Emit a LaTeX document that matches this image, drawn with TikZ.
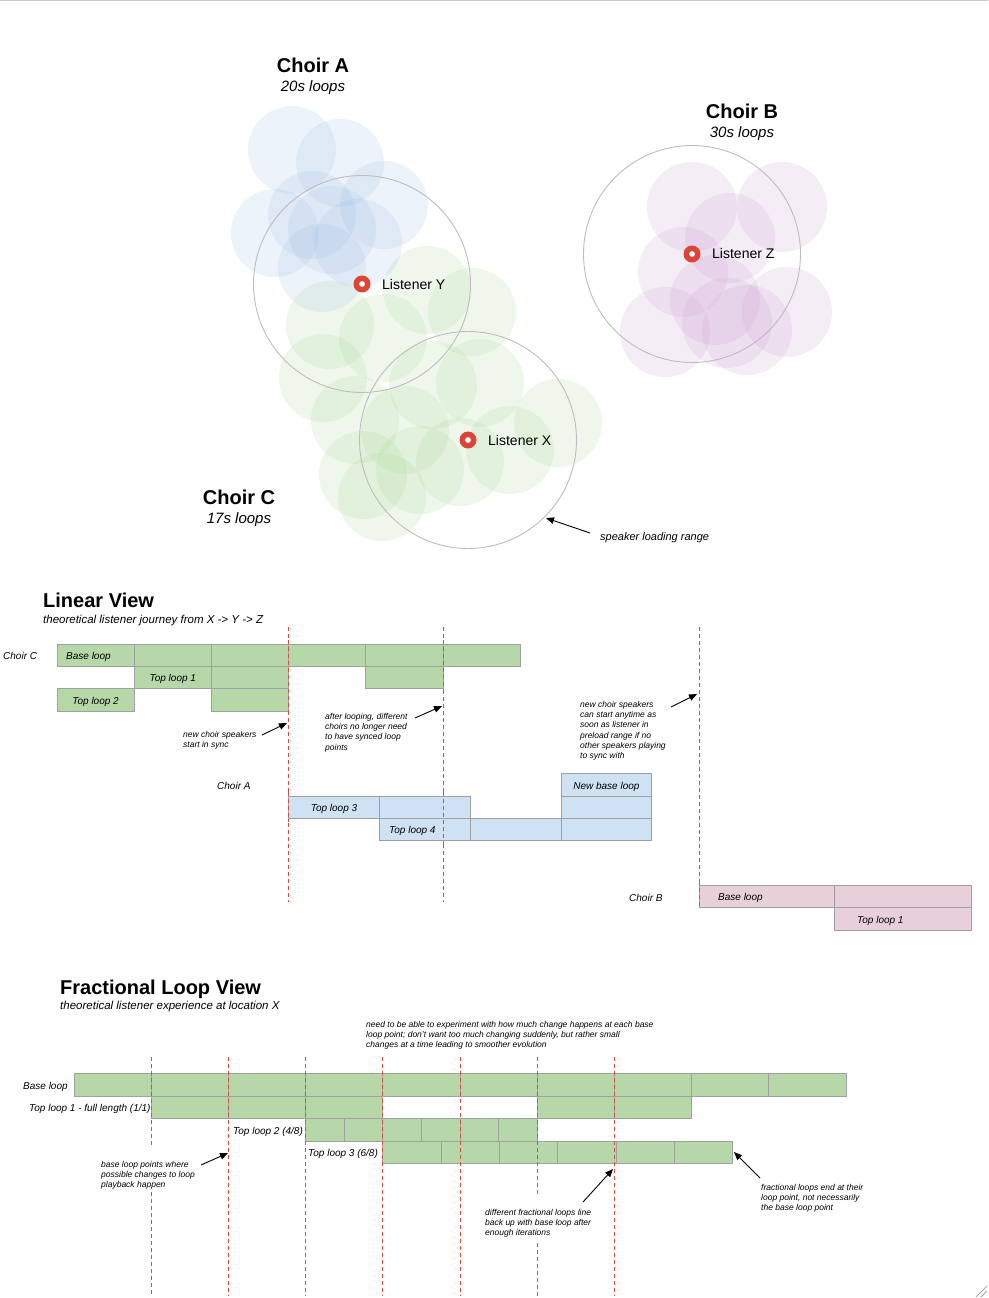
\documentclass[tikz,border=0pt]{standalone}
\usepackage{fontspec}
\setmainfont{Liberation Sans}
\usetikzlibrary{arrows.meta}
\definecolor{gfill}{HTML}{B6D7A8}
\definecolor{bfill}{HTML}{CFE2F3}
\definecolor{pfill}{HTML}{E8D0DB}
\definecolor{bstroke}{HTML}{A0A0A0}
\definecolor{redl}{HTML}{D9503F}
\definecolor{ringc}{HTML}{DB4437}
\definecolor{cA}{RGB}{160,190,228}
\definecolor{cC}{RGB}{170,215,150}
\definecolor{cB}{RGB}{205,160,210}
\definecolor{rangec}{HTML}{BDBDBD}
\tikzset{
  gbox/.style={draw=bstroke, fill=gfill, line width=0.9pt},
  bbox/.style={draw=bstroke, fill=bfill, line width=0.9pt},
  pbox/.style={draw=bstroke, fill=pfill, line width=0.9pt},
  redline/.style={draw=redl, line width=0.9pt, dash pattern=on 4pt off 3pt},
  spkA/.style={fill=cA, fill opacity=0.18},
  spkB/.style={fill=cB, fill opacity=0.18},
  spkC/.style={fill=cC, fill opacity=0.18},
  rangecirc/.style={draw=rangec, line width=0.9pt},
  ringmark/.style={draw=ringc, line width=5.5pt, fill=white},
  arr/.style={draw=black, line width=0.9pt, -{Triangle[length=8pt,width=6.5pt]}},
  note/.style={font=\fontsize{8.5}{10.3}\selectfont\itshape, align=left, inner sep=0pt, anchor=north west},
  lbl/.style={font=\fontsize{10}{12}\selectfont\itshape, inner sep=0pt, anchor=mid west, yshift=-2pt},
  clbl/.style={font=\fontsize{10}{12}\selectfont\itshape, inner sep=0pt, anchor=mid, yshift=-2pt},
  head/.style={font=\fontsize{20}{24}\selectfont\bfseries, inner sep=0pt, anchor=mid west, yshift=-5pt},
  sub/.style={font=\fontsize{11.5}{14}\selectfont\itshape, inner sep=0pt, anchor=mid west, yshift=-2pt},
  chead/.style={font=\fontsize{20}{24}\selectfont\bfseries, inner sep=0pt, anchor=mid, yshift=-5pt},
  csub/.style={font=\fontsize{15}{18}\selectfont\itshape, inner sep=0pt, anchor=mid, yshift=-3pt},
  lis/.style={font=\fontsize{14}{17}\selectfont, inner sep=0pt, anchor=mid west, yshift=-3pt}
}
\begin{document}
\begin{tikzpicture}[x=1pt,y=-1pt]
\useasboundingbox (0,0) rectangle (988,1298);
\fill[white] (0,0) rectangle (988,1298);
\draw[gray!45, line width=1.5pt] (0,0.75) -- (988,0.75);
\draw[gray!70, line width=1pt] (976,1297) -- (987,1286) (981,1297) -- (987,1291);

% ---------- speakers ----------
\foreach \x/\y in {427/290, 472/312, 330/325, 383/338, 323/378, 433/385, 480/383, 355/420, 405/430, 460/462, 558/423, 510/450, 363/475, 382/497, 420/470}
  \fill[spkC] (\x,\y) circle (44pt);
\foreach \x/\y in {292/150, 340/163, 384/205, 275/233, 332/230, 312/215, 322/268, 358/243}
  \fill[spkA] (\x,\y) circle (44pt);
\foreach \x/\y in {692/207, 782/207, 730/238, 683/272, 715/300, 665/332, 727/323, 787/312, 747/330}
  \fill[spkB] (\x,\y) circle (45pt);

% ranges
\draw[rangecirc] (362,284) circle (108.5pt);
\draw[rangecirc] (468,440) circle (108.5pt);
\draw[rangecirc] (692,254) circle (108.5pt);

% listeners
\draw[ringmark] (362,284) circle (5.7pt);
\draw[ringmark] (468,440) circle (5.7pt);
\draw[ringmark] (692,254) circle (5.7pt);
\node[lis] (ly) at (382,284) {Listener Y};
\node[lis] (lx) at (488,440) {Listener X};
\node[lis] (lz) at (712,253) {Listener Z};

\node[chead] (cha) at (313,65) {Choir A};
\node[csub] (cha2) at (313,86) {20s loops};
\node[chead] (chb) at (742,111) {Choir B};
\node[csub] (chb2) at (742,132) {30s loops};
\node[chead] (chc) at (239,497) {Choir C};
\node[csub] (chc2) at (239,518) {17s loops};

\node[sub, font=\fontsize{11}{13}\selectfont\itshape] (slr) at (600,536) {speaker loading range};
\coordinate (slrA) at (590,533);
\coordinate (slrB) at (546,518);
\draw[arr] (slrA) -- (slrB);

% ---------- Linear view ----------
\node[head] (lvh) at (43,600) {Linear View};
\node[sub] (lvs) at (43,619) {theoretical listener journey from X -> Y -> Z};

\draw[redline] (288.6,627) -- (288.6,902);
\draw[redline] (443,627) -- (443,902);
\draw[redline] (699,627) -- (699,907);

% choir C
\node[lbl] (lcc) at (3,655) {Choir C};
\foreach \a/\b in {57/134.2, 134.2/211.4, 211.4/288.6, 288.6/365.8, 365.8/443, 443/520.2}
  \draw[gbox] (\a,644) rectangle (\b,666);
\draw[gbox] (134.2,666) rectangle (211.4,688);
\draw[gbox] (211.4,666) rectangle (288.6,688);
\draw[gbox] (365.8,666) rectangle (443,688);
\draw[gbox] (57,688) rectangle (134.2,711);
\draw[gbox] (211.4,688) rectangle (288.6,711);
\draw[redline] (288.6,640) -- (288.6,715);
\draw[redline] (443,640) -- (443,692);
\node[lbl] (cbl) at (66,655) {Base loop};
\node[clbl] (ct1) at (172.8,677) {Top loop 1};
\node[clbl] (ct2) at (95.6,700) {Top loop 2};

% choir A
\node[lbl] (lca) at (217,785) {Choir A};
\draw[bbox] (288.6,796) rectangle (379.4,818);
\draw[bbox] (379.4,796) rectangle (470.2,818);
\draw[bbox] (379.4,818) rectangle (470.2,840);
\draw[bbox] (470.2,818) rectangle (561,840);
\draw[bbox] (561,818) rectangle (651.8,840);
\draw[bbox] (561,796) rectangle (651.8,818);
\draw[bbox] (561,773) rectangle (651.8,796);
\draw[redline] (288.6,792) -- (288.6,822);
\draw[redline] (443,792) -- (443,844);
\node[clbl] (at3) at (334,807) {Top loop 3};
\node[lbl] (at4) at (389,829) {Top loop 4};
\node[clbl] (anb) at (606.4,785) {New base loop};

% choir B
\node[lbl] (lcb) at (629,897) {Choir B};
\draw[pbox] (699,885) rectangle (834,907);
\draw[pbox] (834,885) rectangle (971,907);
\draw[pbox] (834,907) rectangle (971,930);
\draw[redline] (699,881) -- (699,907);
\node[lbl] (pbl) at (718,896) {Base loop};
\node[lbl] (pt1) at (857,919) {Top loop 1};

% notes
\node[note] (n1) at (183,731) {new choir speakers\\start in sync};
\coordinate (n1a) at (262,735);
\coordinate (n1b) at (287,723);
\draw[arr] (n1a) -- (n1b);
\node[note] (n2) at (325,713) {after looping, different\\choirs no longer need\\to have synced loop\\points};
\coordinate (n2a) at (415,718);
\coordinate (n2b) at (442,706);
\draw[arr] (n2a) -- (n2b);
\node[note] (n3) at (580,701) {new choir speakers\\can start anytime as\\soon as listener in\\preload range if no\\other speakers playing\\to sync with};
\coordinate (n3a) at (671,707);
\coordinate (n3b) at (697,694);
\draw[arr] (n3a) -- (n3b);

% ---------- Fractional view ----------
\node[head] (fvh) at (60,987) {Fractional Loop View};
\node[sub] (fvs) at (60,1005) {theoretical listener experience at location X};
\node[note] (n4) at (366,1021) {need to be able to experiment with how much change happens at each base\\loop point; don't want too much changing suddenly, but rather small\\changes at a time leading to smoother evolution};

\foreach \a/\b in {74/151.2, 151.2/228.4, 228.4/305.6, 305.6/382.8, 382.8/460, 460/537.2, 537.2/614.4, 614.4/691.6, 691.6/768.8, 768.8/846}
  \draw[gbox] (\a,1073) rectangle (\b,1096);
\foreach \a/\b in {151.2/228.4, 228.4/305.6, 305.6/382.8, 537.2/614.4, 614.4/691.6}
  \draw[gbox] (\a,1096) rectangle (\b,1118);
\foreach \a/\b in {305.6/344.2, 344.2/382.8, 382.8/421.4, 421.4/460, 460/498.6, 498.6/537.2}
  \draw[gbox] (\a,1118) rectangle (\b,1141);
\foreach \a/\b in {382.8/441.1, 441.1/499.4, 499.4/557.7, 557.7/616, 616/674.3, 674.3/732.6}
  \draw[gbox] (\a,1141) rectangle (\b,1163);

\draw[redline] (151.2,1057) -- (151.2,1148);
\draw[redline] (151.2,1192) -- (151.2,1296);
\foreach \x in {228.4, 305.6, 382.8, 460, 614.4}
  \draw[redline] (\x,1057) -- (\x,1296);
\draw[redline] (537.2,1057) -- (537.2,1195);
\draw[redline] (537.2,1243) -- (537.2,1296);

\node[lbl] (fbl) at (23,1085) {Base loop};
\node[lbl] (ft1) at (29,1107) {Top loop 1 - full length (1/1)};
\node[lbl] (ft2) at (233,1130) {Top loop 2 (4/8)};
\node[lbl] (ft3) at (308,1152) {Top loop 3 (6/8)};

\node[note] (n5) at (101,1161) {base loop points where\\possible changes to loop\\playback happen};
\coordinate (n5a) at (201,1165);
\coordinate (n5b) at (228,1153);
\draw[arr] (n5a) -- (n5b);
\node[note] (n6) at (485,1209) {different fractional loops line\\back up with base loop after\\enough iterations};
\coordinate (n6a) at (583,1202);
\coordinate (n6b) at (613,1169);
\draw[arr] (n6a) -- (n6b);
\node[note] (n7) at (761,1184) {fractional loops end at their\\loop point, not necessarily\\the base loop point};
\coordinate (n7a) at (760,1178);
\coordinate (n7b) at (734,1152);
\draw[arr] (n7a) -- (n7b);
\end{tikzpicture}
\end{document}
